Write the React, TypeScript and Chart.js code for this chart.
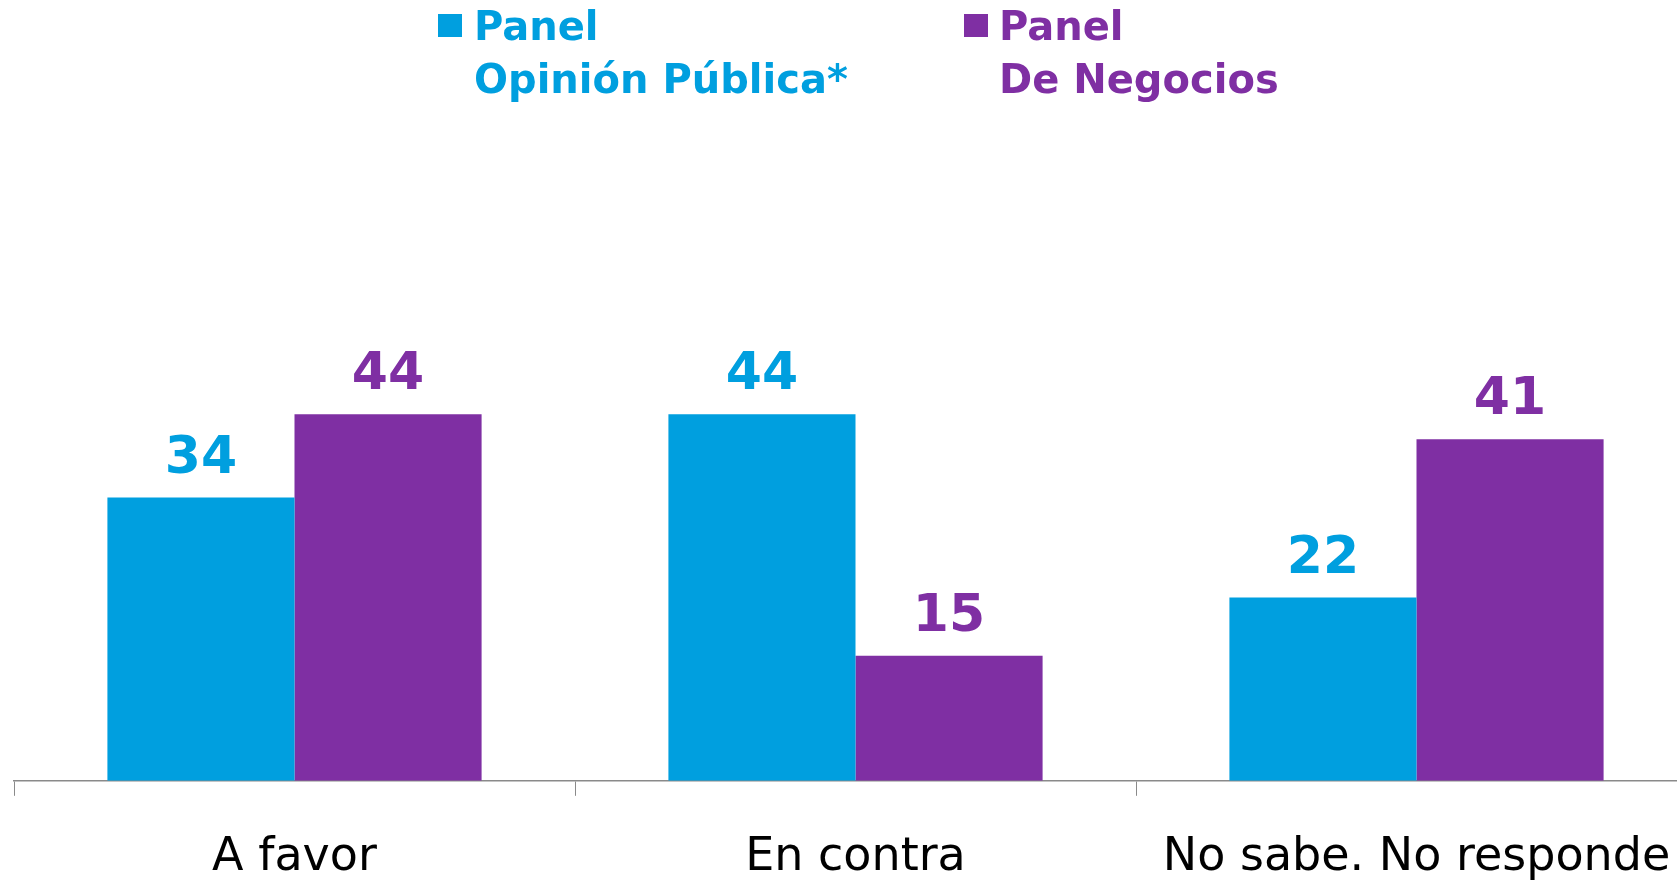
import React, { useEffect, useRef } from "react";
import { Chart, registerables } from "chart.js";

Chart.register(...registerables);

const categories = ["A favor", "En contra", "No sabe. No responde"];
const seriesNames = [["Panel", "Opinión Pública*"], ["Panel", "De Negocios"]];
const opinionPublica = [34, 44, 22];
const deNegocios = [44, 15, 41];
const seriesColors = ["#009FDF", "#7F2FA3"];

const valueLabels = {
  id: "valueLabels",
  afterDatasetsDraw(chart: any) {
    const ctx = chart.ctx;
    chart.data.datasets.forEach((ds: any, i: number) => {
      const meta = chart.getDatasetMeta(i);
      meta.data.forEach((bar: any, j: number) => {
        ctx.save();
        ctx.font = 'bold 52px "DejaVu Sans"';
        ctx.fillStyle = seriesColors[i];
        ctx.textAlign = "center";
        ctx.textBaseline = "alphabetic";
        ctx.fillText(String(ds.data[j]), bar.x, bar.y - 25);
        ctx.restore();
      });
    });
  },
};

export default function App() {
  const ref = useRef<HTMLCanvasElement | null>(null);
  useEffect(() => {
    if (!ref.current) return;
    const chart = new Chart(ref.current, {
      type: "bar",
      data: {
        labels: categories,
        datasets: [
          { label: seriesNames[0].join(" "), data: opinionPublica, backgroundColor: seriesColors[0], categoryPercentage: 0.667, barPercentage: 1 },
          { label: seriesNames[1].join(" "), data: deNegocios, backgroundColor: seriesColors[1], categoryPercentage: 0.667, barPercentage: 1 },
        ],
      },
      options: {
        responsive: false,
        animation: false,
        layout: { padding: { left: 14, right: 13, top: 281, bottom: 0 } },
        plugins: { legend: { display: false }, tooltip: { enabled: false } },
        scales: {
          y: { display: false, min: 0, max: 60 },
          x: {
            grid: { drawOnChartArea: false, drawTicks: true, tickLength: 15, color: "#8a8a8a", lineWidth: 1, offset: true },
            border: { display: true, color: "#8a8a8a", width: 1.5 },
            ticks: { padding: 35, color: "#000", font: { family: '"DejaVu Sans"', size: 46, lineHeight: 1.2 }, maxRotation: 0, autoSkip: false },
          },
        },
      },
      plugins: [valueLabels],
    });
    return () => chart.destroy();
  }, []);

  const legendText: React.CSSProperties = {
    position: "absolute",
    top: 0,
    fontFamily: '"DejaVu Sans"',
    fontWeight: "bold",
    fontSize: 40,
    lineHeight: "53px",
    whiteSpace: "nowrap",
  };

  return (
    <div style={{ position: "fixed", left: 0, top: 0, width: 1677, height: 882, overflow: "hidden", background: "#fff" }}>
      <canvas ref={ref} width={1710} height={921} style={{ position: "absolute", left: 0, top: 0 }} />
      <div style={{ position: "absolute", left: 438, top: 14, width: 24, height: 23, background: seriesColors[0] }} />
      <div style={{ ...legendText, left: 474, color: seriesColors[0] }}>
        {seriesNames[0][0]}
        <br />
        {seriesNames[0][1]}
      </div>
      <div style={{ position: "absolute", left: 964, top: 14, width: 24, height: 23, background: seriesColors[1] }} />
      <div style={{ ...legendText, left: 999, color: seriesColors[1] }}>
        {seriesNames[1][0]}
        <br />
        {seriesNames[1][1]}
      </div>
    </div>
  );
}
